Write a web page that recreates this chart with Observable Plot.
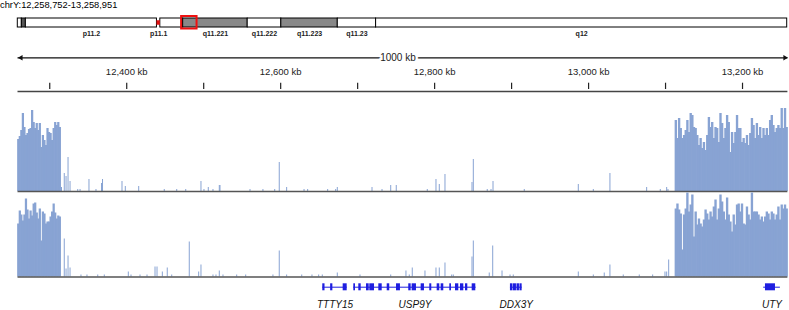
<!DOCTYPE html>
<html><head><meta charset="utf-8">
<script src="https://cdn.jsdelivr.net/npm/d3@7"></script>
<script src="https://cdn.jsdelivr.net/npm/@observablehq/plot@0.6"></script>
<style>
html,body{margin:0;padding:0;background:#fff;}
#chart{position:relative;width:789px;height:310px;overflow:hidden;font-family:"Liberation Sans",Arial,Helvetica,sans-serif;}
#chart > *{position:absolute;left:0;display:block;}
#title{font-size:9.3px;line-height:10px;top:0;color:#000;white-space:nowrap;}
</style></head><body>
<div id="chart"><div id="title"></div></div>
<script>
// ================= DATA =================
const locusLabel = "chrY:12,258,752-13,258,951";
const viewKb = [12258.752, 13258.951];
const chromMb = 57.227415;

// ideogram bands (Mb)
const bandStartMb = [0, 0.3, 0.6, 10.35, 10.6, 12.3, 17.1, 19.6, 23.8, 26.65];
const bandEndMb   = [0.3, 0.6, 10.35, 10.6, 12.3, 17.1, 19.6, 23.8, 26.65, 57.227415];
const bandLabels  = ["", "", "p11.2", "p11.1", "", "q11.221", "q11.222", "q11.223", "q11.23", "q12"];
const bandStains  = ["gneg", "gpos75", "gneg", "acen", "gneg", "gpos50", "gneg", "gpos50", "gneg", "gneg"];

// ruler
const rulerTickKb = [12300, 12400, 12500, 12600, 12700, 12800, 12900, 13000, 13100, 13200];
const rulerLabelKb = [12400, 12600, 12800, 13000, 13200];
const rulerLabels = ["12,400 kb", "12,600 kb", "12,800 kb", "13,000 kb", "13,200 kb"];
const spanLabel = "1000 kb";

// coverage, dense blocks
const leftBlockStartKb = 12258.752, leftBinKb = 2.0;
const rightBlockStartKb = 13112.9, rightBinKb = 2.15;
const track1Left = [52,55,61,78,64,56,58,62,63,81,69,63,68,61,68,44,56,51,46,63,59,58,51,63,69,66,69,64];
const track2Left = [53,66,62,56,62,78,67,58,66,61,73,74,64,58,68,36,65,63,53,55,55,60,65,73,64,58,61,60];
const track1Right = [71,53,73,63,53,56,61,71,59,78,76,64,63,56,46,53,43,49,41,56,74,64,69,53,64,63,49,78,68,53,63,76,69,39,59,48,59,76,63,63,49,53,48,56,46,58,73,66,53,68,56,64,53,63,56,63,56,71,76,66,59,63,66,63,83,63,83,64];
const track2Right = [68,73,67,63,27,62,68,84,65,72,82,40,65,52,58,53,50,57,67,63,57,65,60,70,77,57,68,82,75,65,57,79,62,55,45,62,52,72,73,65,73,53,52,70,62,57,84,65,65,65,62,57,60,55,60,65,63,57,65,63,57,62,70,57,72,68,72,68];

// coverage, sparse spikes (kb, value)
const track1SpikeKb = [12315.9,12319.5,12321.8,12324.4,12327.0,12337.0,12340.0,12351.6,12360.7,12367.9,12369.2,12394.5,12398.8,12416.2,12449.4,12465.6,12477.3,12497.1,12501.0,12506.6,12512.7,12520.9,12521.8,12560.8,12577.6,12592.9,12598.8,12608.4,12631.0,12635.7,12661.7,12672.1,12674.2,12719.3,12732.3,12743.6,12750.8,12791.1,12802.4,12806.7,12814.1,12849.2,12850.9,12869.0,12873.9,12876.5,12917.1,12987.3,13006.8,13028.4,13076.1,13093.8,13102.1,13103.8];
const track1SpikeVal = [4,18,15,34,10,2,2,12,2,8,12,10,5,5,2,2,2,10,2,4,2,6,6,2,2,2,29,4,2,2,2,2,4,4,2,6,6,2,12,7,17,9,32,2,2,10,2,7,2,18,4,2,4,2];
const track2SpikeKb = [12319.5,12321.8,12324.4,12327.0,12341.2,12349.0,12363.0,12371.5,12402.7,12406.2,12417.9,12427.0,12437.4,12440.0,12446.9,12453.3,12459.1,12481.9,12494.1,12497.1,12512.7,12516.6,12520.9,12525.7,12543.5,12555.2,12590.6,12598.8,12608.4,12628.0,12641.3,12650.0,12654.7,12674.2,12703.7,12743.6,12763.4,12767.7,12771.6,12788.1,12802.4,12806.7,12814.1,12822.8,12824.9,12849.2,12850.9,12871.6,12876.1,12888.2,12898.6,12902.8,12987.3,13006.8,13021.0,13028.4,13045.7,13066.5,13083.9,13099.9,13102.1,13104.7];
const track2SpikeVal = [38,8,21,9,2,2,2,2,5,2,2,2,10,10,5,9,2,35,5,12,2,2,6,2,2,2,2,26,2,2,2,2,2,4,2,2,6,2,9,6,9,9,14,2,2,20,36,4,31,6,2,2,5,2,4,12,2,2,2,5,5,17];

// genes (kb)
const geneNames   = ["TTTY15", "USP9Y", "DDX3Y", "UTY"];
const geneStartKb = [12654.7, 12695.0, 12898.5, 13227.5];
const geneEndKb   = [12686.4, 12853.9, 12913.7, 13249.2];
const exonGene    = ["TTTY15","TTTY15","TTTY15",
  "USP9Y","USP9Y","USP9Y","USP9Y","USP9Y","USP9Y","USP9Y","USP9Y","USP9Y","USP9Y","USP9Y","USP9Y","USP9Y","USP9Y","USP9Y","USP9Y","USP9Y","USP9Y",
  "DDX3Y","DDX3Y","DDX3Y","DDX3Y","UTY"];
const exonStartKb = [12654.7,12664.9,12681.2,
  12695.0,12701.5,12711.5,12715.8,12727.5,12738.4,12750.5,12766.4,12770.8,12782.5,12793.7,12803.3,12808.5,12819.7,12827.1,12833.6,12840.1,12848.8,
  12898.5,12902.4,12907.0,12910.9,13229.8];
const exonEndKb   = [12657.6,12667.8,12686.4,
  12697.2,12704.6,12715.0,12721.9,12731.9,12741.7,12755.6,12769.5,12776.4,12786.8,12796.3,12806.7,12811.9,12821.9,12831.4,12837.9,12843.1,12853.5,
  12901.8,12906.3,12910.2,12913.7,13242.8];

// ================= DRAW =================
const chart = document.getElementById("chart");
document.getElementById("title").textContent = locusLabel;
const W = 789;
const xRange = [17.5, 787.4];
const covFill = "#88a3d3";
const geneBlue = "#1e1ee0";
const font = "'Liberation Sans', Arial, Helvetica, sans-serif";
const baseStyle = {fontFamily: font, fontSize: "10px", background: "transparent", overflow: "visible"};

function place(el, top) { el.style.top = top + "px"; chart.append(el); }

// --- ideogram ---
const bands = bandStartMb.map((s, i) => ({s, e: bandEndMb[i], label: bandLabels[i], stain: bandStains[i]}));
const stainFill = {gneg: "#ffffff", gpos50: "#888888", gpos75: "#555555"};
const ideo = Plot.plot({
  width: W, height: 40, margin: 0,
  x: {domain: [0, chromMb], range: [17.3, 786.7], axis: null},
  y: {domain: [0, 1], range: [27, 18], axis: null},
  style: baseStyle,
  marks: [
    Plot.rect(bands.filter(d => d.stain !== "acen"), {x1: "s", x2: "e", y1: 0, y2: 1, fill: d => stainFill[d.stain], stroke: "#000", strokeWidth: 1}),
    Plot.rect(bands.filter(d => d.stain === "acen"), {x1: "s", x2: "e", y1: 0.25, y2: 0.75, fill: "#e01010"}),
    Plot.rect([viewKb], {x1: d => d[0] / 1000, x2: d => d[1] / 1000, y1: 0, y2: 1, fill: "none", stroke: "#ee1111", strokeWidth: 2, insetTop: -2, insetBottom: -1.5, insetLeft: -1, insetRight: -1}),
    Plot.text(bands.filter(d => d.label), {x: d => (d.s + d.e) / 2, y: 0, text: "label", lineAnchor: "top", dy: 3.5, fontSize: 7, fill: "#222", fontFamily: "'Liberation Sans Narrow', 'Arial Narrow', sans-serif", fontWeight: "bold"})
  ]
});
place(ideo, 0);

// --- ruler ---
const ruler = Plot.plot({
  width: W, height: 55, margin: 0,
  x: {domain: viewKb, range: xRange, axis: null},
  y: {domain: [0, 55], range: [0, 55], axis: null},
  style: baseStyle,
  marks: [
    Plot.ruleY([17.3], {x1: viewKb[0], x2: viewKb[1], stroke: "#111", strokeWidth: 1.2}),
    Plot.dot([viewKb[0]], {x: d => d, y: 17.3, symbol: "triangle", r: 2, rotate: -90, fill: "#111", stroke: "none", dx: 3}),
    Plot.dot([viewKb[1]], {x: d => d, y: 17.3, symbol: "triangle", r: 2, rotate: 90, fill: "#111", stroke: "none", dx: -3}),
    Plot.text([spanLabel], {x: (viewKb[0] + viewKb[1]) / 2, y: 17.3, text: d => d, dx: -5, fontSize: 10, fill: "#222", stroke: "white", strokeWidth: 5, lineAnchor: "middle"}),
    Plot.text(rulerLabels, {x: (d, i) => rulerLabelKb[i], y: 34, text: d => d, fontSize: 9.5, fill: "#222", lineAnchor: "bottom"}),
    Plot.ruleX(rulerTickKb, {x: d => d, y1: 42.7, y2: 49, stroke: "#222", strokeWidth: 1.2}),
    Plot.ruleY([51], {x1: viewKb[0], x2: viewKb[1], stroke: "#444", strokeWidth: 1.5})
  ]
});
place(ruler, 40);

// --- coverage tracks ---
function blockRows(startKb, binKb, vals) {
  return vals.map((v, i) => ({x1: startKb + i * binKb, x2: startKb + (i + 1) * binKb, v}));
}
function spikeRows(kbs, vals) {
  return kbs.map((k, i) => ({x1: k - 0.65, x2: k + 0.65, v: vals[i]}));
}
function track(left, right, spKb, spVal, height, base, maxV) {
  const blocks = [
    ...blockRows(leftBlockStartKb, leftBinKb, left),
    ...blockRows(rightBlockStartKb, rightBinKb, right)
  ];
  const spikes = spikeRows(spKb, spVal);
  return Plot.plot({
    width: W, height, margin: 0,
    x: {domain: viewKb, range: xRange, axis: null},
    y: {domain: [0, maxV], range: [base, base - maxV], axis: null},
    style: baseStyle,
    marks: [
      Plot.rect(blocks, {x1: "x1", x2: "x2", y1: 0, y2: "v", fill: covFill, insetLeft: -0.35, insetRight: -0.35, clip: true}),
      Plot.rect(spikes, {x1: "x1", x2: "x2", y1: 0, y2: "v", fill: covFill}),
      Plot.ruleY([0], {x1: viewKb[0], x2: viewKb[1], stroke: "#555", strokeWidth: 1.5})
    ]
  });
}
place(track(track1Left, track1Right, track1SpikeKb, track1SpikeVal, 97, 96, 91), 95);
place(track(track2Left, track2Right, track2SpikeKb, track2SpikeVal, 86, 84.5, 84), 192);

// --- genes ---
const genes = geneNames.map((g, i) => ({g, s: geneStartKb[i], e: geneEndKb[i]}));
const exons = exonGene.map((g, i) => ({g, s: exonStartKb[i], e: exonEndKb[i]}));
const geneTrack = Plot.plot({
  width: W, height: 32, margin: 0,
  x: {domain: viewKb, range: xRange, axis: null},
  y: {domain: [0, 32], range: [0, 32], axis: null},
  style: baseStyle,
  marks: [
    Plot.ruleY(genes, {x1: "s", x2: "e", y: 8.7, stroke: geneBlue, strokeWidth: 1}),
    Plot.rect(exons, {x1: "s", x2: "e", y1: 5.3, y2: 12.3, fill: geneBlue}),
    Plot.text(genes, {x: d => (d.s + d.e) / 2, y: 29, text: "g", fontSize: 10, fontStyle: "italic", fill: "#111", lineAnchor: "bottom"})
  ]
});
place(geneTrack, 278);
</script>
</body></html>
